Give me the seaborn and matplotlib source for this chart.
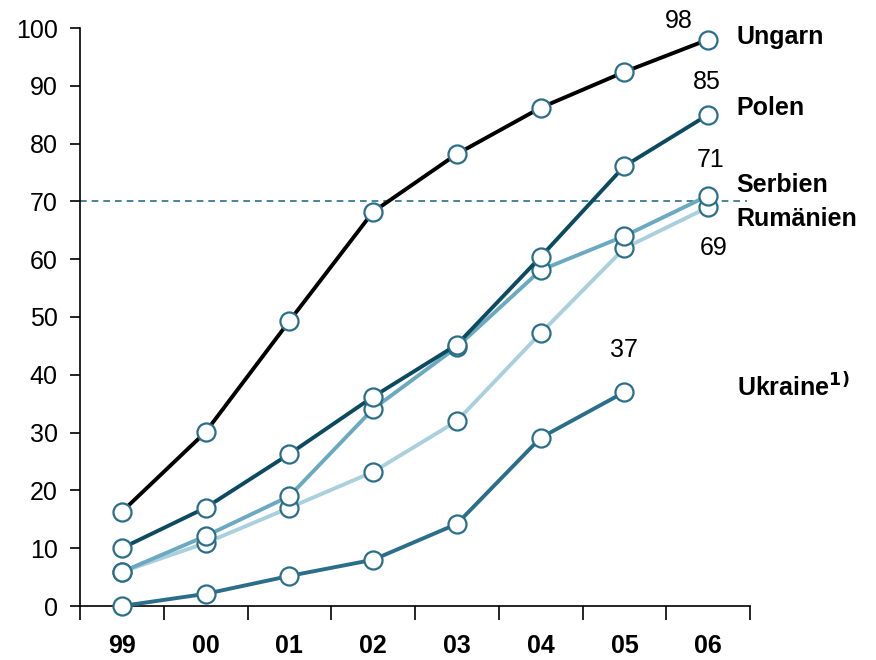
import numpy as np
import pandas as pd
import seaborn as sb
import matplotlib.pyplot as plt

years = ['99', '00', '01', '02', '03', '04', '05', '06']
ungarn = [16.3, 30.1, 49.3, 68.2, 78.2, 86.2, 92.4, 98]
polen = [10.0, 17.0, 26.3, 36.2, 45.2, 60.4, 76.1, 85]
serbien = [5.9, 12.1, 19.0, 34.1, 44.8, 58.1, 64.0, 71]
rumaenien = [5.9, 10.9, 17.0, 23.2, 32.0, 47.2, 61.9, 69]
ukraine = [0, 2.1, 5.2, 8.0, 14.2, 29.1, 37]

series = {'Ukraine': ukraine, 'Rumänien': rumaenien, 'Serbien': serbien,
          'Polen': polen, 'Ungarn': ungarn}
colors = {'Ungarn': '#000000', 'Polen': '#0b4a5f', 'Serbien': '#6aa9bf',
          'Rumänien': '#a9d0dc', 'Ukraine': '#2a6e8a'}

rows = []
for land, vals in series.items():
    for i, v in enumerate(vals):
        rows.append({'land': land, 'pos': i, 'val': v})
df = pd.DataFrame(rows)

sb.set_style('white', rc={'text.color': 'black', 'xtick.color': 'black',
                          'ytick.color': 'black', 'axes.edgecolor': 'black'})
plt.rcParams['font.family'] = ['Liberation Sans', 'DejaVu Sans']

fig = plt.figure(figsize=(8.76, 6.6), dpi=100)
ax = fig.add_axes([80 / 876, 54 / 660, 670 / 876, 578 / 660])

edge = '#2a6e8a'
for land in series:
    sub = df[df['land'] == land]
    sb.lineplot(data=sub, x='pos', y='val', color=colors[land], lw=2.8,
                marker='o', markersize=13, markerfacecolor='white',
                markeredgecolor=edge, markeredgewidth=1.6, clip_on=False,
                legend=False, ax=ax, zorder=3)

ax.axhline(70, color=edge, ls=(0, (4, 3)), lw=1.2, xmax=0.995, zorder=1)

ax.set_xlim(-0.5, 7.5)
ax.set_ylim(0, 100)
ax.set_xlabel('')
ax.set_ylabel('')
ax.set_yticks(range(0, 101, 10))
ax.tick_params(axis='y', labelsize=18, length=7, width=1.2, direction='out',
               left=True, pad=9)
ax.set_xticks(np.arange(-0.5, 8, 1))
ax.set_xticklabels([])
ax.set_xticks(range(len(years)), minor=True)
ax.set_xticklabels(years, minor=True, fontsize=18, fontweight='bold')
ax.tick_params(axis='x', which='major', length=10, width=1.2, direction='out',
               bottom=True)
ax.tick_params(axis='x', which='minor', length=0, pad=20)
for s in ['top', 'right']:
    ax.spines[s].set_visible(False)
for s in ['left', 'bottom']:
    ax.spines[s].set_linewidth(1.2)

# end values
fs = 18
ax.text(6.65, 101.2, '98', fontsize=fs, ha='center', va='center')
ax.text(6.99, 90.7, '85', fontsize=fs, ha='center', va='center')
ax.text(7.03, 77.2, '71', fontsize=fs, ha='center', va='center')
ax.text(7.06, 61.9, '69', fontsize=fs, ha='center', va='center')
ax.text(5.99, 44.3, '37', fontsize=fs, ha='center', va='center')

# names
nx = 7.34
ax.text(nx, 98.4, 'Ungarn', fontsize=fs, fontweight='bold', va='center')
ax.text(nx, 86.2, 'Polen', fontsize=fs, fontweight='bold', va='center')
ax.text(nx, 72.8, 'Serbien', fontsize=fs, fontweight='bold', va='center')
ax.text(nx, 67.0, 'Rumänien', fontsize=fs, fontweight='bold', va='center')
ax.text(nx, 37.9, r'Ukraine$^{\mathbf{1)}}$', fontsize=fs, fontweight='bold',
        va='center')

fig.savefig('out.png', dpi=100)
